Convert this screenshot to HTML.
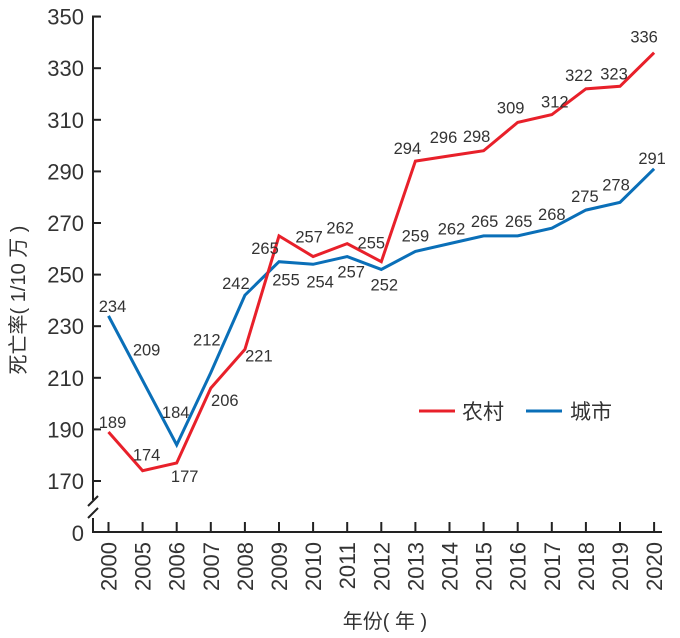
<!DOCTYPE html>
<html><head><meta charset="utf-8"><style>
body{margin:0;background:#fff;}
svg{display:block;font-family:"Liberation Sans","Noto Sans CJK SC",sans-serif;}
</style></head><body>
<svg id="c" width="680" height="638" viewBox="0 0 680 638"></svg>
<script>
const years=["2000","2005","2006","2007","2008","2009","2010","2011","2012","2013","2014","2015","2016","2017","2018","2019","2020"];
const rural=[189,174,177,206,221,265,257,262,255,294,296,298,309,312,322,323,336];
const urban=[234,209,184,212,242,255,254,257,252,259,262,265,265,268,275,278,291];
const yTicks=[170,190,210,230,250,270,290,310,330,350];
// label offsets (style)
const rOff=[[4,-10],[4,-16],[8,13],[14,12],[14,6],[-14,12],[-4,-20],[-7,-16],[-10,-19],[-8,-13],[-6,-19],[-7,-15],[-7,-15],[3,-13],[-7,-14],[-6,-13],[-10,-16]];
const uOff=[[4,-10],[4,-31],[-1,-33],[-4,-33],[-9,-12],[7,18],[7,17],[4,15],[3,15],[0,-16],[2,-15],[1,-15],[1,-15],[0,-14],[-1,-14],[-4,-18],[-2,-11]];
const svg=document.getElementById('c');
const NS='http://www.w3.org/2000/svg';
const x=i=>108.5+i*34.1;
const y=v=>481-(v-170)*51.6/20;
function mk(t,a,p){const e=document.createElementNS(NS,t);for(const k in a)e.setAttribute(k,a[k]);(p||svg).appendChild(e);return e;}
let ax=mk('path',{d:'M100 16.5 H93 V500 M93 518 V532 H662',fill:'none',stroke:'#222','stroke-width':2});


let br=mk('path',{d:'M88 506 L98 496 M88 518 L98 508',stroke:'#222','stroke-width':2});


yTicks.forEach(v=>{
 mk('line',{x1:93,x2:101,y1:y(v),y2:y(v),stroke:'#222','stroke-width':2});
 const t=mk('text',{x:84,y:y(v)+8,'text-anchor':'end','font-size':22,fill:'#333'});
 t.textContent=v;
 
 
});
let z=mk('text',{x:84,y:541,'text-anchor':'end','font-size':22,fill:'#333'});z.textContent='0';


years.forEach((yr,i)=>{
 mk('line',{x1:x(i),x2:x(i),y1:532,y2:522,stroke:'#222','stroke-width':2});
 const t=mk('text',{transform:`translate(${x(i)+8},542) rotate(-90)`,'text-anchor':'end','font-size':22,fill:'#333'});
 t.textContent=yr;
 
 
});
function series(vals,off,color,name){
 const l=mk('polyline',{points:vals.map((v,i)=>x(i)+','+y(v)).join(' '),fill:'none',stroke:color,'stroke-width':3,'stroke-linejoin':'miter'});
 
 
 vals.forEach((v,i)=>{
  const t=mk('text',{x:x(i)+off[i][0],y:y(v)+off[i][1]+6,'text-anchor':'middle','font-size':16.5,fill:'#333'});
  t.textContent=v;
  
  
 });
}
series(urban,uOff,'#0a6fb8','urban');
series(rural,rOff,'#e8202a','rural');
const lg=mk('g',{});


mk('line',{x1:419,x2:455,y1:411,y2:411,stroke:'#e8202a','stroke-width':3},lg);
let t1=mk('text',{x:462,y:419,'font-size':21,fill:'#333'},lg);t1.textContent='农村';


mk('line',{x1:526,x2:562,y1:411,y2:411,stroke:'#0a6fb8','stroke-width':3},lg);
let t2=mk('text',{x:570,y:419,'font-size':21,fill:'#333'},lg);t2.textContent='城市';


let yt=mk('text',{transform:'translate(25,300) rotate(-90)','text-anchor':'middle','font-size':20,fill:'#333'});
yt.textContent='死亡率( 1/10 万 )';


let xt=mk('text',{x:385,y:628,'text-anchor':'middle','font-size':20,fill:'#333'});
xt.textContent='年份( 年 )';


</script>
</body></html>
